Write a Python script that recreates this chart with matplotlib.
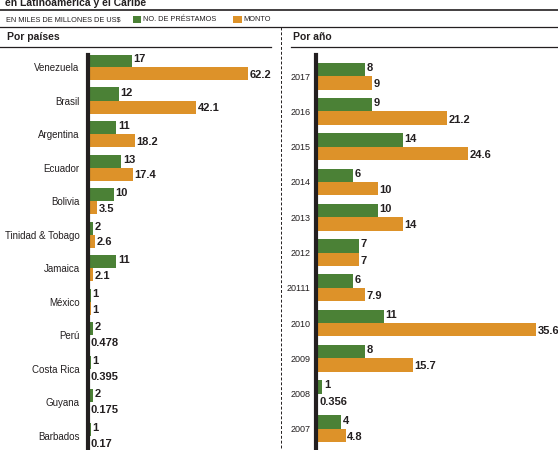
import matplotlib
matplotlib.use("Agg")
import matplotlib.pyplot as plt
from matplotlib.lines import Line2D
from matplotlib.patches import Rectangle

plt.rcParams['font.family'] = ['Liberation Sans', 'DejaVu Sans']

# Data
paises = ["Venezuela", "Brasil", "Argentina", "Ecuador", "Bolivia", "Tinidad & Tobago",
          "Jamaica", "México", "Perú", "Costa Rica", "Guyana", "Barbados"]
paises_prestamos = [17, 12, 11, 13, 10, 2, 11, 1, 2, 1, 2, 1]
paises_monto = [62.2, 42.1, 18.2, 17.4, 3.5, 2.6, 2.1, 1, 0.478, 0.395, 0.175, 0.17]
paises_monto_txt = ["62.2", "42.1", "18.2", "17.4", "3.5", "2.6", "2.1", "1", "0.478", "0.395", "0.175", "0.17"]

anios = ["2017", "2016", "2015", "2014", "2013", "2012", "20111", "2010", "2009", "2008", "2007"]
anios_prestamos = [8, 9, 14, 6, 10, 7, 6, 11, 8, 1, 4]
anios_monto = [9, 21.2, 24.6, 10, 14, 7, 7.9, 35.6, 15.7, 0.356, 4.8]
anios_monto_txt = ["9", "21.2", "24.6", "10", "14", "7", "7.9", "35.6", "15.7", "0.356", "4.8"]

GREEN = "#4b8136"
ORANGE = "#dd9229"
DARK = "#231f20"

W, H = 558, 450
fig = plt.figure(figsize=(W / 100, H / 100), dpi=100)


def fx(px):
    return px / W


def fy(py):
    return 1 - py / H


def panel(left, right, labels, prestamos, monto, monto_txt, xmax, top_pad, bot_pad, bh, lab_size, lab_pad):
    ax = fig.add_axes([fx(left), 0, fx(right - left), fy(55)])
    n = len(labels)
    pos = list(range(n))
    ax.barh([p - bh / 2 for p in pos], prestamos, height=bh, color=GREEN, linewidth=0)
    ax.barh([p + bh / 2 for p in pos], monto, height=bh, color=ORANGE, linewidth=0)
    for p, v in zip(pos, prestamos):
        ax.annotate(str(v), (v, p - bh / 2), xytext=(1.2, 1), textcoords="offset points",
                    ha="left", va="center", fontsize=8, fontweight="bold", color=DARK)
    for p, v, t in zip(pos, monto, monto_txt):
        ax.annotate(t, (v, p + bh / 2), xytext=(1.2, -1), textcoords="offset points",
                    ha="left", va="center", fontsize=8, fontweight="bold", color=DARK)
    ax.set_xlim(0, xmax)
    ax.set_ylim(n - 1 + bot_pad, -top_pad)
    ax.set_yticks(pos)
    ax.set_yticklabels(labels, fontsize=lab_size, color=DARK)
    ax.tick_params(axis="y", length=0, pad=lab_pad)
    ax.set_xticks([])
    for s in ["top", "right", "bottom"]:
        ax.spines[s].set_visible(False)
    ax.spines["left"].set_linewidth(3)
    ax.spines["left"].set_color(DARK)
    ax.patch.set_alpha(0)
    return ax


# left: 2.57 px per unit, right: 6.18 px per unit
panel(88, 272, paises, paises_prestamos, paises_monto, paises_monto_txt,
      (272 - 88) / 2.57, 0.36, 0.43, 0.39, 7, 6)
panel(316, 558, anios, anios_prestamos, anios_monto, anios_monto_txt,
      (558 - 316) / 6.18, 0.6, 0.6, 0.38, 6.5, 4)

# header
fig.text(fx(5), fy(6), "en Latinoamérica y el Caribe", fontsize=7.5, fontweight="bold",
         color=DARK, va="baseline")
fig.add_artist(Line2D([0, 1], [fy(10), fy(10)], color=DARK, lw=1.2))
fig.text(fx(6), fy(19.5), "EN MILES DE MILLONES DE US$", fontsize=5.3, color=DARK, va="center")
fig.add_artist(Rectangle((fx(133), fy(23)), fx(8), 7 / H, color=GREEN, lw=0))
fig.text(fx(143), fy(19.5), "NO. DE PRÉSTAMOS", fontsize=5.3, color=DARK, va="center")
fig.add_artist(Rectangle((fx(233), fy(23)), fx(9), 7 / H, color=ORANGE, lw=0))
fig.text(fx(243), fy(19.5), "MONTO", fontsize=5.3, color=DARK, va="center")
fig.add_artist(Line2D([0, 1], [fy(27), fy(27)], color=DARK, lw=0.9))

fig.text(fx(7), fy(37), "Por países", fontsize=7.5, fontweight="bold", color=DARK, va="center")
fig.text(fx(293), fy(37), "Por año", fontsize=7.5, fontweight="bold", color=DARK, va="center")
fig.add_artist(Line2D([0, fx(271)], [fy(46.5), fy(46.5)], color=DARK, lw=0.9))
fig.add_artist(Line2D([fx(291), 1], [fy(46.5), fy(46.5)], color=DARK, lw=0.9))
fig.add_artist(Line2D([fx(281), fx(281)], [fy(27), 0], color=DARK, lw=0.7, ls=(0, (3, 2))))

fig.savefig("out.png", dpi=100)
